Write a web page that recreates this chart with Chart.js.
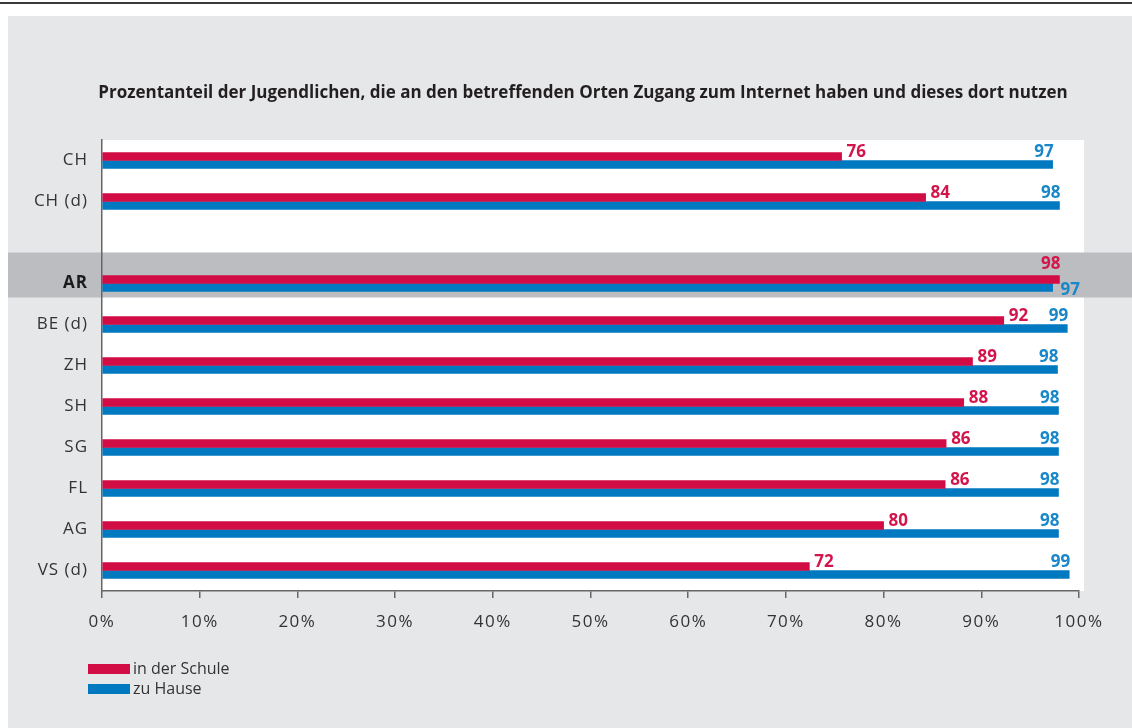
<!DOCTYPE html>
<html>
<head>
<meta charset="utf-8">
<script src="https://cdn.jsdelivr.net/npm/chart.js@4/dist/chart.umd.min.js"></script>
<style>
html,body{margin:0;padding:0;background:#fff;}
#wrap{width:1132px;height:728px;position:relative;}
canvas{display:block;}
</style>
</head>
<body>
<div id="wrap"><canvas id="c" width="1132" height="728"></canvas></div>
<script>
const chartTitle = 'Prozentanteil der Jugendlichen, die an den betreffenden Orten Zugang zum Internet haben und dieses dort nutzen';
const categories = ['CH', 'CH (d)', '', 'AR', 'BE (d)', 'ZH', 'SH', 'SG', 'FL', 'AG', 'VS (d)'];
const schoolValues = [75.7, 84.3, null, 98.0, 92.3, 89.1, 88.2, 86.4, 86.3, 80.0, 72.4];
const homeValues   = [97.3, 98.0, null, 97.3, 98.8, 97.8, 97.9, 97.9, 97.9, 97.9, 99.0];
const schoolLabels = ['76', '84', '', '98', '92', '89', '88', '86', '86', '80', '72'];
const homeLabels   = ['97', '98', '', '97', '99', '98', '98', '98', '98', '98', '99'];
const seriesNames = ['in der Schule', 'zu Hause'];
const highlightCategory = 'AR';
const xTicks = [0, 10, 20, 30, 40, 50, 60, 70, 80, 90, 100];

const RED = '#d20c45', BLUE = '#0079c1';
const RED_TXT = '#d3154b', BLUE_TXT = '#1a87c9';
const FONT = '"Open Sans", "Noto Sans", sans-serif';

function spaced(scale, px) {
  if (scale._spacedPatched) return;
  const orig = scale.drawLabels.bind(scale);
  scale.drawLabels = function (area) {
    const c = this.ctx; c.save(); c.letterSpacing = px; orig(area); c.restore();
  };
  scale._spacedPatched = true;
}

const decor = {
  id: 'decor',
  afterLayout(chart) {
    spaced(chart.scales.x, '1.5px');
    spaced(chart.scales.y, '1px');
  },
  beforeDraw(chart) {
    const c = chart.ctx, a = chart.chartArea, W = chart.width, H = chart.height;
    c.save();
    c.fillStyle = '#fff'; c.fillRect(0, 0, W, H);
    c.fillStyle = '#3a3a3a'; c.fillRect(0, 2, W, 2);
    c.fillStyle = '#e6e7e9'; c.fillRect(8, 16, W - 8, H - 16);
    c.fillStyle = '#fff'; c.fillRect(a.left, a.top, a.right - a.left + 5, a.bottom - a.top);
    const y = chart.scales.y.getPixelForValue(categories.indexOf(highlightCategory));
    c.fillStyle = '#bcbdc0'; c.fillRect(8, y - 31, W - 8, 45);
    c.restore();
  },
  afterDatasetsDraw(chart) {
    const c = chart.ctx;
    const m0 = chart.getDatasetMeta(0), m1 = chart.getDatasetMeta(1);
    c.save();
    c.font = 'bold 17px ' + FONT;
    c.textBaseline = 'alphabetic';
    categories.forEach((cat, i) => {
      if (schoolValues[i] == null) return;
      const r = m0.data[i], b = m1.data[i];
      const cy = chart.scales.y.getPixelForValue(i);
      if (schoolValues[i] >= homeValues[i]) {
        c.fillStyle = RED_TXT; c.textAlign = 'right';
        c.fillText(schoolLabels[i], r.x + 1, cy - 15);
        c.fillStyle = BLUE_TXT; c.textAlign = 'left';
        c.fillText(homeLabels[i], b.x + 8, cy + 11);
      } else {
        c.fillStyle = RED_TXT; c.textAlign = 'left';
        c.fillText(schoolLabels[i], r.x + 5, cy - 4);
        c.fillStyle = BLUE_TXT; c.textAlign = 'right';
        c.fillText(homeLabels[i], b.x + 1, cy - 4);
      }
    });
    c.restore();
  },
  afterDraw(chart) {
    const c = chart.ctx;
    c.save();
    c.fillStyle = '#231f20';
    c.font = 'bold 17px ' + FONT;
    c.textAlign = 'center'; c.textBaseline = 'alphabetic';
    c.fillText(chartTitle, 583, 98);
    // legend
    const colors = [RED, BLUE];
    c.font = '16px ' + FONT; c.textAlign = 'left'; c.textBaseline = 'middle';
    seriesNames.forEach((n, k) => {
      const y = 664 + k * 20;
      c.fillStyle = colors[k]; c.fillRect(88, y, 42, 10);
      c.fillStyle = '#333'; c.fillText(n, 133, y + 5);
    });
    c.restore();
  }
};

new Chart(document.getElementById('c'), {
  type: 'bar',
  data: {
    labels: categories,
    datasets: [
      { label: seriesNames[0], data: schoolValues, backgroundColor: RED, barThickness: 8, borderWidth: 0 },
      { label: seriesNames[1], data: homeValues, backgroundColor: BLUE, barThickness: 8, borderWidth: 0 }
    ]
  },
  options: {
    indexAxis: 'y',
    responsive: false,
    devicePixelRatio: 1,
    animation: false,
    layout: { padding: { top: 140, right: 53, bottom: 0, left: 0 } },
    plugins: { legend: { display: false }, tooltip: { enabled: false }, title: { display: false } },
    scales: {
      x: {
        min: 0, max: 100,
        afterBuildTicks(s) { s.ticks = xTicks.map(v => ({ value: v })); },
        afterFit(s) { s.height = 137; },
        ticks: { callback: v => v + '%', color: '#333', font: { family: FONT, size: 17 }, padding: 14, maxRotation: 0 },
        grid: { drawOnChartArea: false, drawTicks: true, tickLength: 7, color: '#666', lineWidth: 1.5 },
        border: { display: true, color: '#666', width: 1.5 }
      },
      y: {
        afterFit(s) { s.width = 102; },
        ticks: {
          color: ctx => ctx.tick && ctx.tick.label === highlightCategory ? '#1a1a1a' : '#333',
          font: ctx => ctx.tick && ctx.tick.label === highlightCategory
            ? { family: FONT, size: 17, weight: 'bold' } : { family: FONT, size: 17 },
          padding: 14, autoSkip: false
        },
        grid: { display: false, drawTicks: false },
        border: { display: true, color: '#666', width: 1.5 }
      }
    }
  },
  plugins: [decor]
});
</script>
</body>
</html>
